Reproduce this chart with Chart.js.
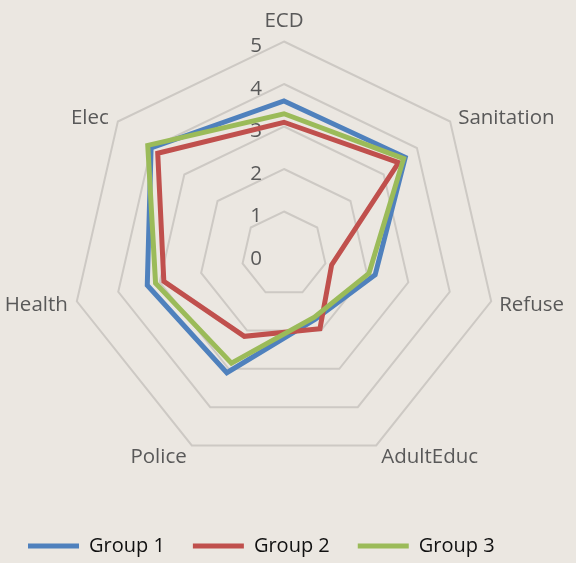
<!DOCTYPE html>
<html>
<head>
<meta charset="utf-8">
<script src="https://cdn.jsdelivr.net/npm/chart.js@4"></script>
<style>
  html, body { margin: 0; padding: 0; background: #EBE7E1; }
  #wrap { width: 576px; height: 563px; }
</style>
</head>
<body>
<div id="wrap"><canvas id="radarChart" width="576" height="563"></canvas></div>
<script>
const categories = ['ECD', 'Sanitation', 'Refuse', 'AdultEduc', 'Police', 'Health', 'Elec'];
const group1 = [3.6, 3.65, 2.2, 1.7, 3.1, 3.3, 4.0];
const group2 = [3.1, 3.45, 1.15, 1.95, 2.15, 2.9, 3.8];
const group3 = [3.3, 3.6, 2.05, 1.65, 2.85, 3.1, 4.1];
const tickValues = [0, 1, 2, 3, 4, 5];

const labelFont = '20.5px "Open Sans"';
const textColor = '#595959';

// axis numbers sit left of the top spoke, category names hug the outer ring
const radarText = {
    id: 'radarText',
    beforeDatasetsDraw(chart) {
        const scale = chart.scales.r;
        const ctx = chart.ctx;
        ctx.save();
        ctx.font = labelFont;
        ctx.fillStyle = textColor;
        ctx.textAlign = 'center';
        ctx.textBaseline = 'middle';
        scale.ticks.forEach(t => {
            const p = scale.getPointPosition(0, scale.getDistanceFromCenterForValue(t.value));
            ctx.fillText(String(t.value), scale.xCenter - 28, p.y + 5);
        });

        categories.forEach((name, i) => {
            const p = scale.getPointPosition(i, scale.drawingArea);
            const a = scale.getIndexAngle(i);
            const s = Math.sin(a), c = Math.cos(a);
            let x = p.x, y = p.y;
            if (Math.abs(s) < 0.1) {
                ctx.textAlign = 'center';
                y -= 20;
            } else if (c < -0.8) {
                ctx.textAlign = s > 0 ? 'left' : 'right';
                x += s > 0 ? 5 : -5;
                y += 12;
            } else {
                ctx.textAlign = s > 0 ? 'left' : 'right';
                x += s > 0 ? 8 : -9;
                y += c > 0 ? -3 : 4;
            }
            ctx.fillText(name, x, y);
        });
        ctx.restore();
    }
};

const ctx = document.getElementById('radarChart').getContext('2d');
const radarChart = new Chart(ctx, {
    type: 'radar',
    data: {
        labels: categories,
        datasets: [
            {label: 'Group 1', data: group1, borderColor: '#4F81BD', backgroundColor: '#4F81BD', borderWidth: 5, borderCapStyle: 'round', order: 3},
            {label: 'Group 2', data: group2, borderColor: '#C0504D', backgroundColor: '#C0504D', borderWidth: 5, borderCapStyle: 'round', order: 2},
            {label: 'Group 3', data: group3, borderColor: '#9BBB59', backgroundColor: '#9BBB59', borderWidth: 5, borderCapStyle: 'round', order: 1}
        ]
    },
    options: {
        responsive: false,
        animation: false,
        layout: {padding: {bottom: -3}},
        elements: {
            line: {borderWidth: 5, fill: false, tension: 0},
            point: {radius: 0, hoverRadius: 0}
        },
        scales: {
            r: {
                min: tickValues[0],
                max: tickValues[tickValues.length - 1],
                ticks: {stepSize: 1, display: false},
                grid: {color: '#CDC9C4', lineWidth: 2},
                angleLines: {display: false},
                pointLabels: {display: false},
                afterFit(scale) {
                    scale.xCenter = 284;
                    scale.yCenter = 254;
                    scale.drawingArea = 212.5;
                }
            }
        },
        plugins: {
            tooltip: {enabled: false},
            legend: {
                position: 'bottom',
                align: 'start',
                labels: {
                    usePointStyle: true,
                    pointStyle: 'line',
                    pointStyleWidth: 51,
                    padding: 28,
                    color: '#111111',
                    font: {family: 'Open Sans', size: 20},
                    sort: (a, b) => a.datasetIndex - b.datasetIndex
                }
            }
        }
    },
    plugins: [radarText]
});
</script>
</body>
</html>
